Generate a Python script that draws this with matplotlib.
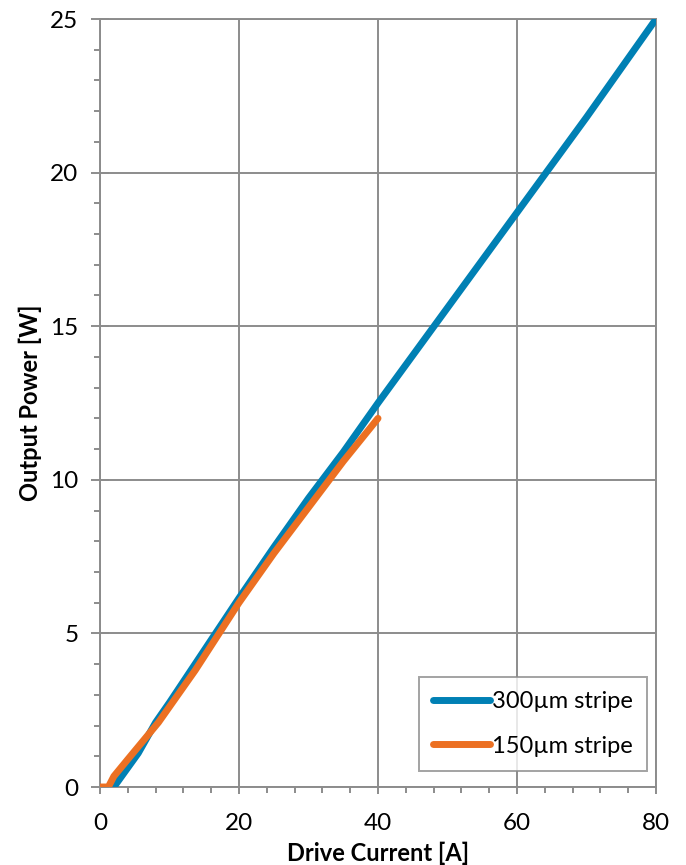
import matplotlib
matplotlib.use('Agg')
import matplotlib.pyplot as plt
from matplotlib.ticker import MultipleLocator

# Data
current_300 = [2, 5.5, 8, 10, 15, 20, 25, 30, 35, 40, 50, 60, 70, 80]
power_300 = [0, 1.1, 2.1, 2.75, 4.45, 6.15, 7.8, 9.4, 10.9, 12.5, 15.6, 18.7, 21.8, 25]

current_150 = [0, 1.2, 2, 4, 8.4, 13.7, 20, 25, 30, 35, 40]
power_150 = [0, 0, 0.35, 0.9, 2.1, 3.8, 6.0, 7.6, 9.1, 10.6, 12.0]

labels = ['300µm stripe', '150µm stripe']
colors = ['#0080b4', '#ec7022']
grey = '#8c8c8c'

plt.rcParams['font.family'] = ['Lato', 'DejaVu Sans']

fig = plt.figure(figsize=(6.86, 8.65), dpi=100)
ax = fig.add_axes([100 / 686, 78 / 865, 556 / 686, 768 / 865])

ax.plot(current_300, power_300, color=colors[0], linewidth=5,
        solid_capstyle='round', label=labels[0], zorder=3)
ax.plot(current_150, power_150, color=colors[1], linewidth=5,
        solid_capstyle='round', label=labels[1], zorder=4)

ax.set_xlim(0, 80)
ax.set_ylim(0, 25)
ax.xaxis.set_major_locator(MultipleLocator(20))
ax.xaxis.set_minor_locator(MultipleLocator(4))
ax.yaxis.set_major_locator(MultipleLocator(5))
ax.yaxis.set_minor_locator(MultipleLocator(1))

ax.grid(which='major', color=grey, linewidth=1.4)
ax.set_axisbelow(True)
for s in ax.spines.values():
    s.set_color(grey)
    s.set_linewidth(1.4)

ax.tick_params(which='both', color=grey, width=1.4, labelsize=17.5)
ax.tick_params(axis='x', which='major', direction='out', length=5, pad=14)
ax.tick_params(axis='x', which='minor', direction='out', length=4)
ax.tick_params(axis='y', which='major', direction='inout', length=13, pad=9)
ax.tick_params(axis='y', which='minor', direction='out', length=4)

ax.set_xlabel('Drive Current [A]', fontsize=17, fontweight='bold', labelpad=5)
ax.set_ylabel('Output Power [W]', fontsize=17, fontweight='bold', labelpad=6)

leg = ax.legend(loc='lower right', fontsize=17, frameon=True, fancybox=False,
                edgecolor=grey, handlelength=2.4, handletextpad=0.1,
                labelspacing=1.0, borderpad=0.6, borderaxespad=0,
                bbox_to_anchor=(0.984, 0.021))
leg.get_frame().set_linewidth(1.4)

fig.savefig('out.png', dpi=100)
